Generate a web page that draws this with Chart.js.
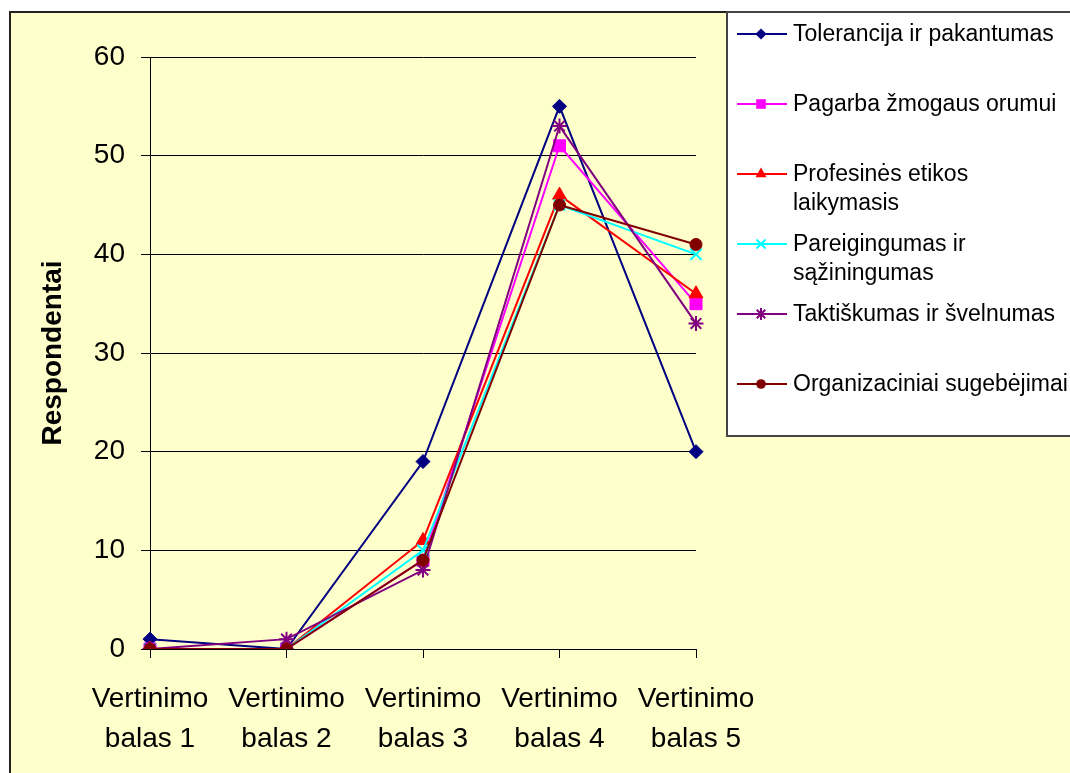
<!DOCTYPE html>
<html lang="lt">
<head>
<meta charset="utf-8">
<title>Respondentų vertinimai</title>
<script src="https://cdn.jsdelivr.net/npm/chart.js@4.4.0/dist/chart.umd.min.js"></script>
<style>
  html, body { margin: 0; padding: 0; background: #ffffff; }
  #wrap { width: 1070px; height: 773px; }
</style>
</head>
<body>
<div id="wrap"><canvas id="chart" width="1070" height="773"></canvas></div>
<script>
// Categories along the x axis (two-line labels)
const categories = [
  ["Vertinimo", "balas 1"],
  ["Vertinimo", "balas 2"],
  ["Vertinimo", "balas 3"],
  ["Vertinimo", "balas 4"],
  ["Vertinimo", "balas 5"]
];

// Number of respondents per score, one array per quality
const tolerancija    = [1, 0, 19, 55, 20];
const pagarba        = [0, 0, 9, 51, 35];
const profesines     = [0, 0, 11, 46, 36];
const pareigingumas  = [0, 0, 10, 45, 40];
const taktiskumas    = [0, 1, 8, 53, 33];
const organizaciniai = [0, 0, 9, 45, 41];

const seriesNames = [
  "Tolerancija ir pakantumas",
  "Pagarba žmogaus orumui",
  "Profesinės etikos laikymasis",
  "Pareigingumas ir sąžiningumas",
  "Taktiškumas ir švelnumas",
  "Organizaciniai sugebėjimai"
];

const yTicks = [0, 10, 20, 30, 40, 50, 60];
const yTitle = "Respondentai";

const FONT = "'Liberation Sans', Arial, sans-serif";

const seriesValues = [tolerancija, pagarba, profesines, pareigingumas, taktiskumas, organizaciniai];
const seriesColors = ["#000080", "#FF00FF", "#FF0000", "#00FFFF", "#800080", "#800000"];
const seriesMarkers = ["rectRot", "rect", "triangle", "crossRot", "star", "circle"];
const markerRadius = { rectRot: 7, rect: 8.5, triangle: 8, crossRot: 8, star: 7.5, circle: 6 };
const markerStroke = { rectRot: 1, rect: 1, triangle: 1, crossRot: 2, star: 2, circle: 1 };

const datasets = seriesValues.map((vals, i) => ({
  label: seriesNames[i],
  data: vals,
  borderColor: seriesColors[i],
  backgroundColor: seriesColors[i],
  borderWidth: 2,
  tension: 0,
  fill: false,
  pointStyle: seriesMarkers[i],
  pointRadius: markerRadius[seriesMarkers[i]],
  pointHoverRadius: markerRadius[seriesMarkers[i]],
  pointBackgroundColor: seriesColors[i],
  pointBorderColor: seriesColors[i],
  pointBorderWidth: markerStroke[seriesMarkers[i]],
  order: seriesValues.length - i   // later series painted on top
}));

// Page background, pale plot panel and its frame
const panelPlugin = {
  id: 'panel',
  beforeDraw(chart) {
    const ctx = chart.ctx;
    ctx.save();
    ctx.fillStyle = '#ffffff';
    ctx.fillRect(0, 0, chart.width, chart.height);
    ctx.fillStyle = '#FFFFCC';
    ctx.fillRect(10, 12, chart.width - 10, chart.height - 12);
    ctx.strokeStyle = '#222222';
    ctx.lineWidth = 2;
    ctx.beginPath();
    ctx.moveTo(10, chart.height + 2);
    ctx.lineTo(10, 12);
    ctx.lineTo(chart.width + 2, 12);
    ctx.stroke();
    ctx.restore();
  }
};

function drawMarker(ctx, style, x, y, r, color, lw) {
  ctx.save();
  ctx.fillStyle = color;
  ctx.strokeStyle = color;
  ctx.lineWidth = lw;
  ctx.beginPath();
  if (style === 'rectRot') {
    ctx.moveTo(x, y - r); ctx.lineTo(x + r, y); ctx.lineTo(x, y + r); ctx.lineTo(x - r, y);
    ctx.closePath(); ctx.fill();
  } else if (style === 'rect') {
    const h = r * Math.SQRT1_2;
    ctx.rect(x - h, y - h, 2 * h, 2 * h); ctx.fill();
  } else if (style === 'triangle') {
    ctx.moveTo(x, y - r);
    ctx.lineTo(x + r * Math.sin(Math.PI / 3), y + r * 0.5);
    ctx.lineTo(x - r * Math.sin(Math.PI / 3), y + r * 0.5);
    ctx.closePath(); ctx.fill();
  } else if (style === 'circle') {
    ctx.arc(x, y, r, 0, Math.PI * 2); ctx.fill();
  } else if (style === 'crossRot' || style === 'star') {
    const d = r * Math.SQRT1_2;
    ctx.moveTo(x - d, y - d); ctx.lineTo(x + d, y + d);
    ctx.moveTo(x - d, y + d); ctx.lineTo(x + d, y - d);
    if (style === 'star') {
      ctx.moveTo(x, y - r); ctx.lineTo(x, y + r);
    }
    ctx.stroke();
  }
  ctx.restore();
}

// Boxed legend on the right
const legendPlugin = {
  id: 'boxLegend',
  afterDraw(chart) {
    const ctx = chart.ctx;
    const box = { x: 727, y: 12, w: 360, h: 424 };
    ctx.save();
    ctx.fillStyle = '#ffffff';
    ctx.fillRect(box.x, box.y, box.w, box.h);
    ctx.strokeStyle = '#444444';
    ctx.lineWidth = 2;
    ctx.strokeRect(box.x, box.y, box.w, box.h);

    ctx.font = "23px " + FONT;
    ctx.textBaseline = 'alphabetic';
    ctx.textAlign = 'left';
    const maxW = 280;
    chart.data.datasets.forEach((ds, i) => {
      const ly = 34 + 70 * i;
      ctx.strokeStyle = ds.borderColor;
      ctx.lineWidth = 2;
      ctx.beginPath();
      ctx.moveTo(737, ly);
      ctx.lineTo(787, ly);
      ctx.stroke();
      drawMarker(ctx, ds.pointStyle, 761, ly, ds.pointRadius * 0.8, ds.pointBackgroundColor, ds.pointBorderWidth);

      // word wrap the series name
      const words = ds.label.split(' ');
      const lines = [];
      let cur = '';
      words.forEach(w => {
        const t = cur ? cur + ' ' + w : w;
        if (ctx.measureText(t).width > maxW && cur) { lines.push(cur); cur = w; }
        else cur = t;
      });
      if (cur) lines.push(cur);
      ctx.fillStyle = '#000000';
      lines.forEach((ln, k) => ctx.fillText(ln, 793, ly + 7 + k * 29));
    });
    ctx.restore();
  }
};

new Chart(document.getElementById('chart'), {
  type: 'line',
  data: { labels: categories, datasets: datasets },
  options: {
    responsive: false,
    animation: false,
    events: [],
    layout: { padding: { left: 0, top: 57, right: 374, bottom: 0 } },
    plugins: {
      legend: { display: false },
      tooltip: { enabled: false },
      title: { display: false }
    },
    scales: {
      x: {
        type: 'category',
        offset: false,
        afterFit(scale) { scale.height = 124; },
        grid: {
          drawOnChartArea: false,
          drawTicks: true,
          tickLength: 9,
          color: '#000000',
          lineWidth: 1
        },
        border: { display: true, color: '#000000', width: 1 },
        ticks: {
          color: '#000000',
          padding: 22,
          maxRotation: 0,
          autoSkip: false,
          font: { family: FONT, size: 28, lineHeight: 1.4 }
        }
      },
      y: {
        min: yTicks[0],
        max: yTicks[yTicks.length - 1],
        afterFit(scale) { scale.width = 150; },
        afterBuildTicks(scale) { scale.ticks = yTicks.map(v => ({ value: v })); },
        grid: {
          drawOnChartArea: true,
          drawTicks: true,
          tickLength: 9,
          color: '#000000',
          lineWidth: 1
        },
        border: { display: true, color: '#000000', width: 1 },
        ticks: {
          color: '#000000',
          padding: 16,
          font: { family: FONT, size: 28 }
        },
        title: {
          display: true,
          text: yTitle,
          color: '#000000',
          padding: { top: 36, bottom: 0 },
          font: { family: FONT, size: 28, weight: 'bold', lineHeight: 1.2 }
        }
      }
    }
  },
  plugins: [panelPlugin, legendPlugin]
});
</script>
</body>
</html>
